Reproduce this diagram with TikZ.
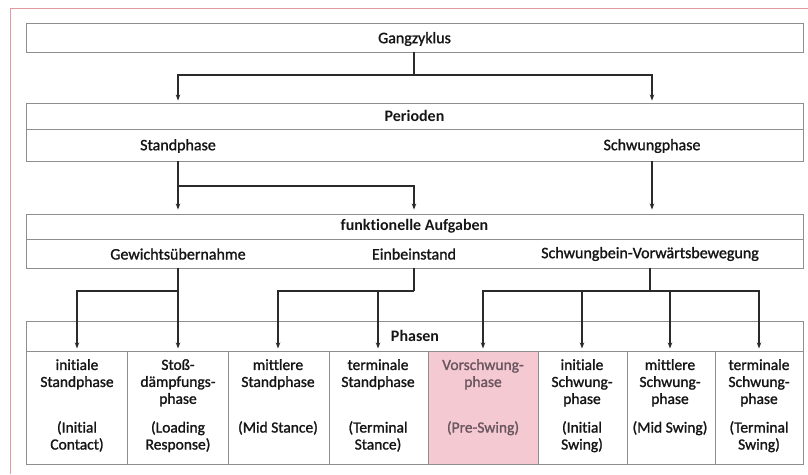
\documentclass[tikz,border=0pt]{standalone}
\usepackage{fontspec}
\setmainfont{Carlito}[Ligatures=NoCommon]
\newfontfamily\medfont{Carlito}[FakeBold=1.3,Ligatures=NoCommon]
\usetikzlibrary{arrows.meta,calc}
\definecolor{boxgray}{HTML}{8E8E8E}
\definecolor{arrowdark}{HTML}{2A2A2A}
\definecolor{framered}{HTML}{E39A9E}
\definecolor{pinkfill}{HTML}{F5C9D1}
\definecolor{pinktext}{HTML}{6A5660}
\definecolor{txt}{HTML}{151515}
\tikzset{
  boxstyle/.style={draw=boxgray, line width=0.9pt, rectangle, inner sep=0pt, minimum width=777pt},
  lbl/.style={font=\medfont\fontsize{16}{17}\selectfont, text=txt, inner sep=0pt},
  hdr/.style={font=\fontsize{16}{17}\selectfont\bfseries, text=txt, inner sep=0pt},
  coltxt/.style={font=\medfont\fontsize{15.5}{17}\selectfont, text=txt, align=center, inner sep=0pt, anchor=north},
  colbox/.style={draw=boxgray, line width=0.9pt, rectangle, inner sep=0pt, minimum height=113pt},
  arr/.style={draw=arrowdark, line width=1.3pt, -{Stealth[length=6pt,width=4.5pt]}},
  ln/.style={draw=arrowdark, line width=1.3pt}
}
\begin{document}
\begin{tikzpicture}[x=1pt,y=-1pt]
\useasboundingbox (0,0) rectangle (808,474);
% red frame
\draw[framered, line width=1pt] (10,474) -- (10,8) -- (808,8);

% Gangzyklus
\node[boxstyle, minimum height=29pt] (gz) at (414.5,37.5) {};
\node[lbl] (gzt) at (414.5,39) {Gangzyklus};

% Perioden
\node[boxstyle, minimum height=26pt] (per) at (414.5,116) {};
\node[hdr] (pert) at (414.5,116) {Perioden};
\node[boxstyle, minimum height=32pt] (perrow) at (414.5,145) {};
\node[lbl] (stand) at (178,146) {Standphase};
\node[lbl] (schw) at (652,146) {Schwungphase};

% funktionelle Aufgaben
\node[boxstyle, minimum height=25pt] (fun) at (414.5,226.5) {};
\node[hdr] (funt) at (414.5,226.5) {funktionelle Aufgaben};
\node[boxstyle, minimum height=29pt] (funrow) at (414.5,253.5) {};
\node[lbl] (gew) at (178,254) {Gewichtsübernahme};
\node[lbl] (ein) at (414,254) {Einbeinstand};
\node[lbl] (swb) at (650,254) {Schwungbein-Vorwärtsbewegung};

% Phasen
\node[boxstyle, minimum height=30pt] (pha) at (414.5,336) {};
\node[hdr] (phat) at (415,336) {Phasen};

% columns
\node[colbox, minimum width=101pt] (c1) at (76.5,407.5) {};
\node[colbox, minimum width=101pt] (c2) at (177.5,407.5) {};
\node[colbox, minimum width=101pt] (c3) at (278.5,407.5) {};
\node[colbox, minimum width=99pt] (c4) at (378.5,407.5) {};
\node[colbox, minimum width=110pt, fill=pinkfill] (c5) at (483,407.5) {};
\node[colbox, minimum width=89pt] (c6) at (582.5,407.5) {};
\node[colbox, minimum width=88pt] (c7) at (671,407.5) {};
\node[colbox, minimum width=88pt] (c8) at (759,407.5) {};

\node[coltxt] (t1a) at (77,359) {initiale\\Standphase};
\node[coltxt] (t1b) at (77,421) {(Initial\\Contact)};
\node[coltxt] (t2a) at (178,359) {Stoß-\\dämpfungs-\\phase};
\node[coltxt] (t2b) at (178,421) {(Loading\\Response)};
\node[coltxt] (t3a) at (278,359) {mittlere\\Standphase};
\node[coltxt] (t3b) at (278,421) {(Mid Stance)};
\node[coltxt] (t4a) at (378,359) {terminale\\Standphase};
\node[coltxt] (t4b) at (378,421) {(Terminal\\Stance)};
\node[coltxt, text=pinktext] (t5a) at (483,359) {Vorschwung-\\phase};
\node[coltxt, text=pinktext] (t5b) at (483,421) {(Pre-Swing)};
\node[coltxt] (t6a) at (582,359) {initiale\\Schwung-\\phase};
\node[coltxt] (t6b) at (582,421) {(Initial\\Swing)};
\node[coltxt] (t7a) at (670,359) {mittlere\\Schwung-\\phase};
\node[coltxt] (t7b) at (670,421) {(Mid Swing)};
\node[coltxt] (t8a) at (759,359) {terminale\\Schwung-\\phase};
\node[coltxt] (t8b) at (759,421) {(Terminal\\Swing)};

% junction coordinates
\coordinate (j1) at (414,75);
\coordinate (j2) at (178,186);
\coordinate (j3) at (178,291);
\coordinate (j4) at (414,291);
\coordinate (j5) at (650,291);

% connectors level 1
\draw[ln] (gz.south -| j1) -- (j1);
\draw[arr, shorten >=2pt] (j1) -| (per.north -| stand);
\draw[arr, shorten >=2pt] (j1) -| (per.north -| schw);

% level 2
\draw[arr, shorten >=4pt] (perrow.south -| stand) -- (fun.north -| stand);
\draw[arr, shorten >=4pt] (j2) -| (fun.north -| ein);
\draw[arr, shorten >=4pt] (perrow.south -| schw) -- (fun.north -| schw);

% level 3
\draw[ln] (funrow.south -| gew) -- (j3);
\draw[arr, shorten >=3pt] (j3) -| (pha.south -| t1a);
\draw[arr, shorten >=3pt] (j3) -- (pha.south -| t2a);
\draw[ln] (funrow.south -| ein) -- (j4);
\draw[arr, shorten >=3pt] (j4) -| (pha.south -| t3a);
\draw[arr, shorten >=3pt] (j4 -| t4a) -- (pha.south -| t4a);
\draw[ln] (funrow.south -| swb) -- (j5);
\draw[arr, shorten >=3pt] (j5) -| (pha.south -| t5a);
\draw[arr, shorten >=3pt] (j5) -| (pha.south -| t8a);
\draw[arr, shorten >=3pt] (j5 -| t6a) -- (pha.south -| t6a);
\draw[arr, shorten >=3pt] (j5 -| t7a) -- (pha.south -| t7a);
\end{tikzpicture}
\end{document}
